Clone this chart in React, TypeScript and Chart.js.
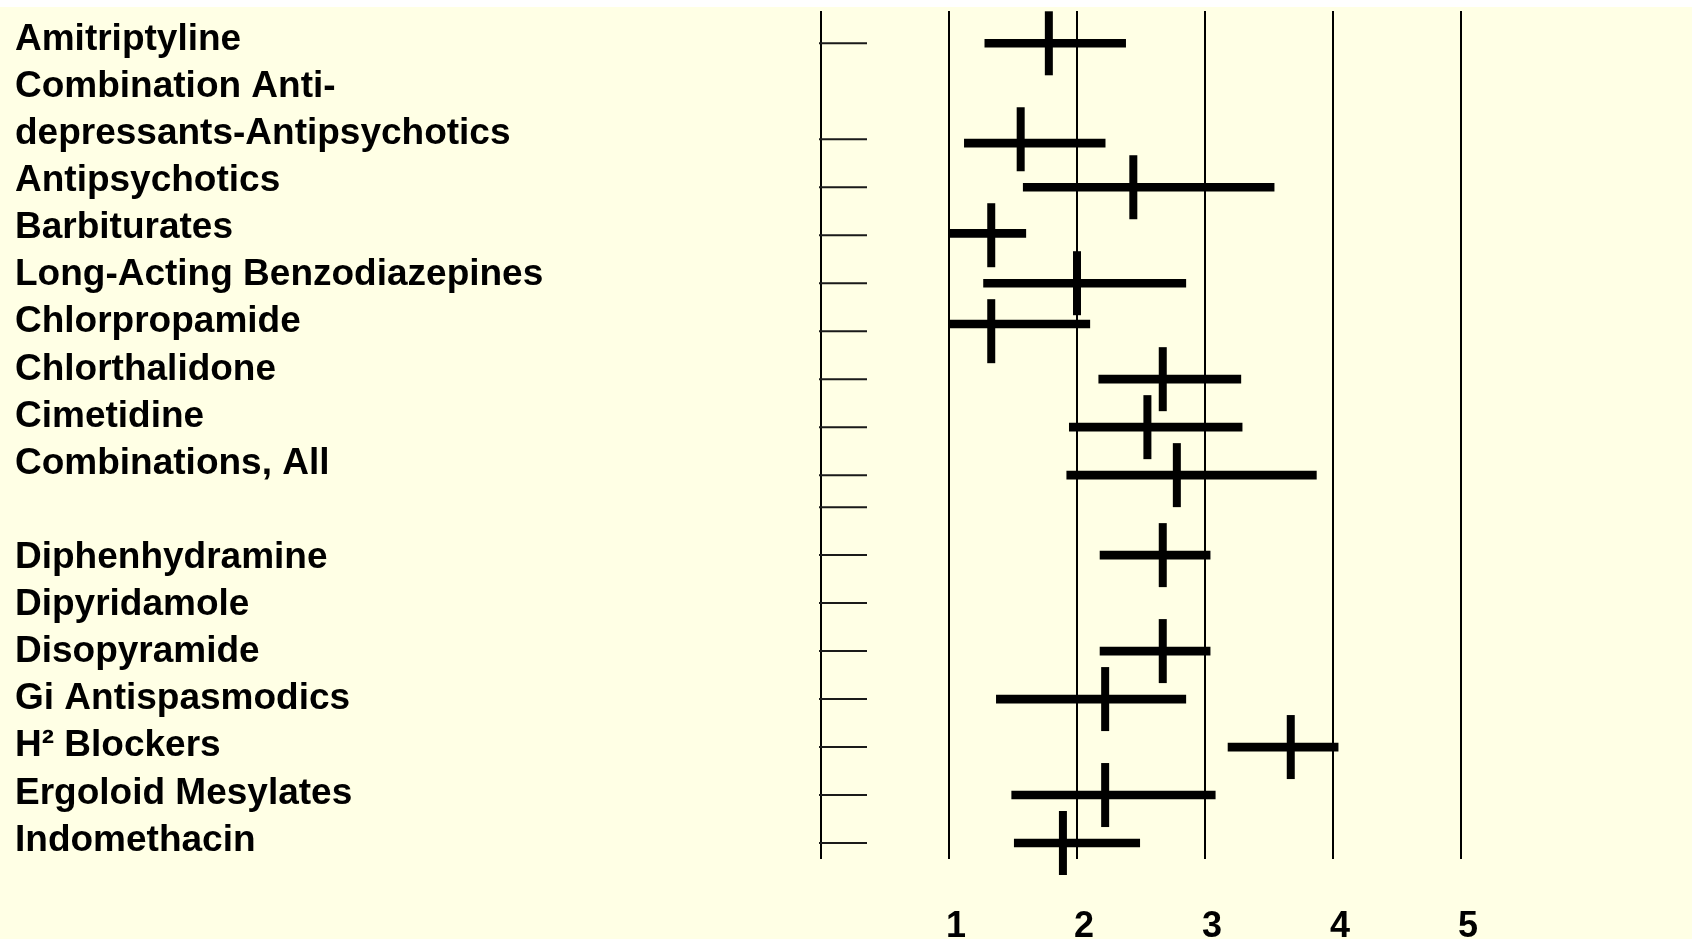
import React, { useEffect, useRef } from "react";
import Chart from "chart.js/auto";

// Text column on the left (one entry per printed line, '' = blank line)
const labelRows: string[] = [
  "Amitriptyline",
  "Combination Anti-",
  "depressants-Antipsychotics",
  "Antipsychotics",
  "Barbiturates",
  "Long-Acting Benzodiazepines",
  "Chlorpropamide",
  "Chlorthalidone",
  "Cimetidine",
  "Combinations, All",
  "",
  "Diphenhydramine",
  "Dipyridamole",
  "Disopyramide",
  "Gi Antispasmodics",
  "H\u00B2 Blockers",
  "Ergoloid Mesylates",
  "Indomethacin",
];

// Row positions of the small tick marks on the left axis
const tickRows: number[] = [1, 3, 4, 5, 6, 7, 8, 9, 10, 10.667, 11.667, 12.667, 13.667, 14.667, 15.667, 16.667, 17.667];

// Drugs with an estimate
const drugs: string[] = [
  "Amitriptyline",
  "Combination Antidepressants-Antipsychotics",
  "Antipsychotics",
  "Barbiturates",
  "Long-Acting Benzodiazepines",
  "Chlorpropamide",
  "Chlorthalidone",
  "Cimetidine",
  "Combinations, All",
  "Diphenhydramine",
  "Disopyramide",
  "Gi Antispasmodics",
  "H2 Blockers",
  "Ergoloid Mesylates",
  "Indomethacin",
];
const markRow: number[] = [1, 3, 4, 5, 6, 7, 8, 9, 10, 11.667, 13.667, 14.667, 15.667, 16.667, 17.667];
const barRow: number[] = [1, 3.08, 4, 4.96, 6, 6.85, 8, 9, 10, 11.667, 13.667, 14.667, 15.667, 16.667, 17.667];
const lower: number[] = [1.28, 1.12, 1.58, 1.0, 1.27, 1.0, 2.17, 1.94, 1.92, 2.18, 2.18, 1.37, 3.18, 1.49, 1.51];
const upper: number[] = [2.38, 2.22, 3.54, 1.6, 2.85, 2.1, 3.28, 3.29, 3.87, 3.04, 3.04, 2.85, 4.04, 3.08, 2.49];
const estimate: number[] = [1.78, 1.56, 2.44, 1.33, 2.0, 1.33, 2.67, 2.55, 2.78, 2.67, 2.67, 2.22, 3.67, 2.22, 1.89];

const xTickLabels: string[] = ["1", "2", "3", "4", "5"];

const FONT = "'Liberation Sans', Arial, sans-serif";

const leftTicksPlugin = {
  id: "leftTicks",
  afterDatasetsDraw(chart: any) {
    const { ctx, chartArea, scales } = chart;
    const y = scales.y;
    ctx.save();
    ctx.strokeStyle = "#1a1a1a";
    ctx.lineWidth = 2;
    ctx.lineCap = "butt";
    for (const r of tickRows) {
      const py = y.getPixelForValue(r);
      ctx.beginPath();
      ctx.moveTo(chartArea.left - 2, py);
      ctx.lineTo(chartArea.left + 46, py);
      ctx.stroke();
    }
    ctx.restore();
  },
};

export default function App() {
  const ref = useRef<HTMLCanvasElement | null>(null);

  useEffect(() => {
    if (!ref.current) return;
    const chart = new Chart(ref.current, {
      type: "bar",
      data: {
        datasets: [
          {
            type: "bar",
            indexAxis: "y",
            label: "range",
            data: drugs.map((d, i) => ({ y: barRow[i], x: [lower[i], upper[i]] })) as any,
            backgroundColor: "#000000",
            borderWidth: 0,
            barThickness: 8,
            xAxisID: "x",
            yAxisID: "y",
          } as any,
          {
            type: "scatter",
            label: "estimate",
            data: drugs.map((d, i) => ({ x: estimate[i], y: markRow[i] })),
            pointStyle: "line",
            rotation: 90,
            radius: 32,
            hoverRadius: 32,
            borderWidth: 8,
            borderColor: "#000000",
            backgroundColor: "#000000",
            clip: false,
            xAxisID: "x",
            yAxisID: "y",
          } as any,
        ],
      },
      options: {
        animation: false,
        responsive: false,
        devicePixelRatio: 1,
        events: [],
        layout: { autoPadding: false, padding: { left: 15, right: 231, top: 11, bottom: 0 } },
        plugins: {
          legend: { display: false },
          tooltip: { enabled: false },
        },
        scales: {
          x: {
            type: "linear",
            position: "bottom",
            min: 0,
            max: 5,
            offset: false,
            grid: {
              display: true,
              offset: false,
              color: "#000000",
              lineWidth: 2,
              drawTicks: false,
            },
            border: { display: false },
            ticks: {
              stepSize: 1,
              padding: 46,
              labelOffset: 7,
              color: "#000000",
              font: { family: FONT, size: 36, weight: "bold" },
              callback: (v: any) => (v >= 1 ? xTickLabels[v - 1] : ""),
            },
            afterFit: (s: any) => {
              s.height = 80;
              s.paddingLeft = 0;
              s.paddingRight = 0;
            },
          },
          y: {
            type: "linear",
            position: "left",
            reverse: true,
            min: 0.327,
            max: 18.0,
            offset: false,
            grace: 0,
            display: true,
            weight: 0,
            grid: { display: false, drawTicks: false },
            border: { display: false },
            ticks: { display: false },
            afterFit: (s: any) => {
              s.width = 0;
              s.paddingTop = 0;
              s.paddingBottom = 0;
            },
          },
          yl: {
            type: "category",
            position: "left",
            labels: labelRows,
            offset: true,
            weight: 1,
            grid: { display: false, drawTicks: false },
            border: { display: false },
            ticks: {
              autoSkip: false,
              crossAlign: "far",
              padding: 0,
              labelOffset: 5,
              color: "#000000",
              font: { family: FONT, size: 37, weight: "bold" },
            },
            afterFit: (s: any) => {
              s.width = 806;
              s.paddingTop = 0;
              s.paddingBottom = 0;
            },
          },
        } as any,
      },
      plugins: [leftTicksPlugin],
    });
    return () => chart.destroy();
  }, []);

  return (
    <div
      style={{
        position: "absolute",
        left: 0,
        top: 0,
        width: 1692,
        height: 939,
        overflow: "hidden",
        background: "linear-gradient(#ffffff 0px, #ffffff 7px, #FFFFE5 7px)",
      }}
    >
      <canvas ref={ref} width={1692} height={939} style={{ display: "block" }} />
    </div>
  );
}
